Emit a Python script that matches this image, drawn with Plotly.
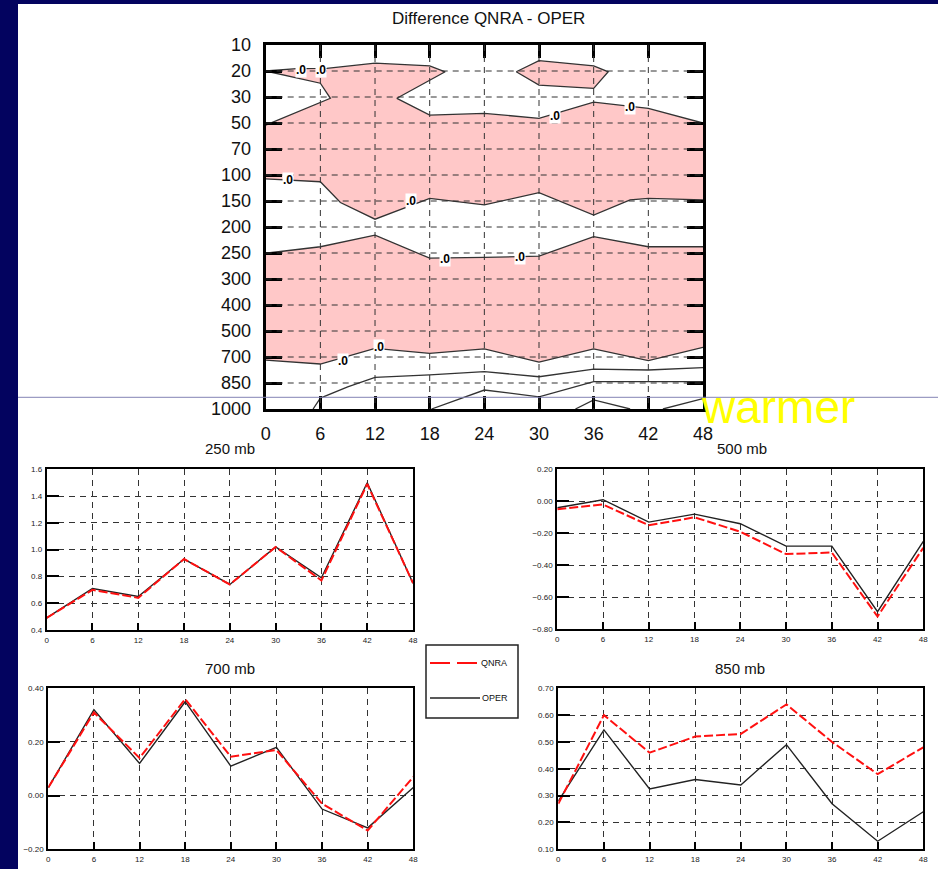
import plotly.graph_objects as go

W, H = 938, 869

# ---------------- data ----------------
hours = [0, 6, 12, 18, 24, 30, 36, 42, 48]
levels = ["10", "20", "30", "50", "70", "100", "150", "200", "250",
          "300", "400", "500", "700", "850", "1000"]

# contour lines of the difference field (x in hours, y in pressure-level index, 0 = 10 mb)
upper_top_x = [0, 3.4, 6.7, 12, 18, 19.7, 14.4, 18, 24, 30, 36, 42, 48]
upper_top_y = [1.0, 0.91, 0.9, 0.7, 0.8, 1.03, 2.05, 2.7, 2.63, 2.82, 2.2, 2.44, 3.0]
wedge_x = [0, 6, 7.1, 0]
wedge_y = [1.0, 1.47, 2.05, 3.08]
upper_bot_x = [0, 6, 8.2, 12, 18, 24, 30, 36, 40, 42, 48]
upper_bot_y = [5.15, 5.26, 6.06, 6.7, 5.9, 6.15, 5.68, 6.54, 5.96, 5.9, 5.96]
island_x = [27.5, 30, 36, 37.6, 36, 30, 27.5]
island_y = [1.03, 0.6, 0.8, 1.03, 1.67, 1.54, 1.03]
lower_top_y = [8.01, 7.76, 7.31, 8.2, 8.17, 8.12, 7.37, 7.76, 7.76]
lower_bot_y = [12.12, 12.27, 11.67, 11.86, 11.69, 12.2, 11.69, 12.14, 11.63]
lineC_x = [5.2, 6, 9, 12, 18, 24, 30, 36, 42, 48]
lineC_y = [14, 13.58, 13.15, 12.78, 12.69, 12.56, 12.76, 12.47, 12.5, 12.41]
lineD_x = [18.2, 24, 30, 36, 42, 48]
lineD_y = [14, 13.27, 13.53, 12.95, 12.95, 12.95]
lineE_x = [34, 36, 40]
lineE_y = [14, 13.65, 14]
lineF_x = [43.6, 48]
lineF_y = [14, 13.6]

label_x = [3.9, 6.1, 31.8, 40.0, 2.5, 16.0, 19.7, 27.9, 8.5, 12.4]
label_y = [0.97, 0.97, 2.72, 2.37, 5.19, 6.0, 8.23, 8.17, 12.14, 11.6]

# time series
q250 = [0.49, 0.70, 0.64, 0.93, 0.74, 1.02, 0.77, 1.49, 0.75]
o250 = [0.49, 0.71, 0.65, 0.93, 0.74, 1.02, 0.79, 1.50, 0.75]
q500 = [-0.05, -0.02, -0.15, -0.10, -0.19, -0.33, -0.32, -0.72, -0.29]
o500 = [-0.04, 0.01, -0.13, -0.08, -0.14, -0.28, -0.28, -0.69, -0.25]
q700 = [0.03, 0.31, 0.14, 0.36, 0.145, 0.17, -0.03, -0.13, 0.07]
o700 = [0.03, 0.32, 0.12, 0.35, 0.11, 0.18, -0.05, -0.12, 0.03]
q850 = [0.27, 0.60, 0.46, 0.52, 0.53, 0.64, 0.50, 0.38, 0.48]
o850 = [0.28, 0.545, 0.325, 0.36, 0.34, 0.49, 0.27, 0.13, 0.24]

panels = [
    ("250 mb", q250, o250, [0.4, 1.6], 0.2, ".1f"),
    ("500 mb", q500, o500, [-0.8, 0.2], 0.2, ".2f"),
    ("700 mb", q700, o700, [-0.2, 0.4], 0.2, ".2f"),
    ("850 mb", q850, o850, [0.1, 0.7], 0.1, ".2f"),
]

# ---------------- helpers ----------------
def px(x):
    return x / W

def py(y):
    return 1 - y / H

NAVY = "#03035f"
PINK = "#ffc8c8"
LINE = "#333333"

fig = go.Figure()

# ---- contour panel ----
poly_x = upper_top_x + upper_bot_x[::-1] + wedge_x[::-1]
poly_y = upper_top_y + upper_bot_y[::-1] + wedge_y[::-1]
fig.add_trace(go.Scatter(x=poly_x, y=poly_y, fill="toself", fillcolor=PINK,
                         mode="lines", line=dict(width=0), hoverinfo="skip",
                         xaxis="x", yaxis="y"))
fig.add_trace(go.Scatter(x=island_x, y=island_y, fill="toself", fillcolor=PINK,
                         mode="lines", line=dict(width=0), hoverinfo="skip",
                         xaxis="x", yaxis="y"))
fig.add_trace(go.Scatter(x=hours + hours[::-1], y=lower_top_y + lower_bot_y[::-1],
                         fill="toself", fillcolor=PINK, mode="lines",
                         line=dict(width=0), hoverinfo="skip", xaxis="x", yaxis="y"))

for lx, ly in [(upper_top_x, upper_top_y), (wedge_x, wedge_y), (upper_bot_x, upper_bot_y),
               (island_x, island_y), (hours, lower_top_y), (hours, lower_bot_y),
               (lineC_x, lineC_y), (lineD_x, lineD_y), (lineE_x, lineE_y), (lineF_x, lineF_y)]:
    fig.add_trace(go.Scatter(x=lx, y=ly, mode="lines", line=dict(color=LINE, width=1.3),
                             hoverinfo="skip", xaxis="x", yaxis="y"))

shapes = []
annotations = []

# white slide area
shapes.append(dict(type="rect", xref="paper", yref="paper", x0=px(18), x1=1.0,
                   y0=0, y1=py(4), fillcolor="white", line=dict(width=0), layer="below"))

# dashed grid of contour panel (above the fill)
for h in hours[1:-1]:
    shapes.append(dict(type="line", xref="x", yref="y", x0=h, x1=h, y0=0, y1=14,
                       line=dict(color="#333", width=1, dash="6px,5px"), layer="above"))
for i in range(1, len(levels) - 1):
    shapes.append(dict(type="line", xref="x", yref="y", x0=0, x1=48, y0=i, y1=i,
                       line=dict(color="#333", width=1, dash="6px,5px"), layer="above"))

for lx, ly in zip(label_x, label_y):
    annotations.append(dict(x=lx, y=ly, xref="x", yref="y", text="<b>.0</b>",
                            showarrow=False, bgcolor="white", borderpad=0,
                            font=dict(size=12, color="black", family="Liberation Sans")))

FONT = "Liberation Sans, Arial, sans-serif"

layout = dict(
    width=W, height=H, margin=dict(l=0, r=0, t=0, b=0, pad=0, autoexpand=False),
    paper_bgcolor=NAVY, plot_bgcolor="white", showlegend=False,
    font=dict(family=FONT, color="black"),
    xaxis=dict(domain=[px(265.7), px(703)], range=[0, 48], tickvals=hours,
               ticks="inside", ticklen=13, tickwidth=2.5, tickcolor="black",
               showline=True, linewidth=3, linecolor="black", mirror="ticks",
               showgrid=False, zeroline=False, tickfont=dict(size=18, color="#111"),
               ticklabelstandoff=6, anchor="y"),
    yaxis=dict(domain=[py(409), py(45)], range=[14, 0], tickvals=list(range(len(levels))),
               ticktext=levels, ticks="inside", ticklen=16, tickwidth=2.5, tickcolor="black",
               showline=True, linewidth=3, linecolor="black", mirror="ticks",
               showgrid=False, zeroline=False, tickfont=dict(size=18, color="#111"),
               ticklabelstandoff=8, anchor="x"),
)

annotations.append(dict(x=px(488), y=py(19), xref="paper", yref="paper",
                        text="Difference QNRA - OPER", showarrow=False,
                        font=dict(size=17, color="#111"), xanchor="center", yanchor="middle"))

domains = [
    ([46.7, 413], [630, 469.3]),
    ([557.3, 923.3], [629.3, 469.3]),
    ([48.3, 413.3], [849.3, 688.3]),
    ([558.3, 923.3], [849.3, 688.3]),
]
title_pos = [(230, 448), (742, 448), (230, 668), (740, 668)]

for k, ((name, q, o, yr, dt, fmt), (dx, dy), tp) in enumerate(zip(panels, domains, title_pos)):
    n = k + 2
    xa, ya = f"x{n}", f"y{n}"
    fig.add_trace(go.Scatter(x=hours, y=o, mode="lines", line=dict(color="#222", width=1.4),
                             name="OPER", xaxis=xa, yaxis=ya))
    fig.add_trace(go.Scatter(x=hours, y=q, mode="lines",
                             line=dict(color="#ff1010", width=2, dash="9px,3px"),
                             name="QNRA", xaxis=xa, yaxis=ya))
    layout[f"xaxis{n}"] = dict(domain=[px(dx[0]), px(dx[1])], range=[0, 48], tickvals=hours,
                               ticks="inside", ticklen=7, tickwidth=2, tickcolor="black",
                               showline=True, linewidth=2, linecolor="black", mirror=True,
                               showgrid=True, gridcolor="#333", griddash="6px,5px", gridwidth=1,
                               zeroline=False, tickfont=dict(size=8, color="#222"),
                               ticklabelstandoff=1, anchor=ya)
    layout[f"yaxis{n}"] = dict(domain=[py(dy[0]), py(dy[1])], range=yr, dtick=dt,
                               tick0=yr[0], tickformat=fmt,
                               ticks="inside", ticklen=12, tickwidth=2, tickcolor="black",
                               showline=True, linewidth=2, linecolor="black", mirror=True,
                               showgrid=True, gridcolor="#333", griddash="6px,5px", gridwidth=1,
                               zeroline=False, tickfont=dict(size=8, color="#222"),
                               ticklabelstandoff=1, anchor=xa)
    annotations.append(dict(x=px(tp[0]), y=py(tp[1]), xref="paper", yref="paper", text=name,
                            showarrow=False, font=dict(size=15, color="#111"),
                            xanchor="center", yanchor="middle"))

# legend box
shapes.append(dict(type="rect", xref="paper", yref="paper", x0=px(426), x1=px(518),
                   y0=py(718), y1=py(645), line=dict(color="#222", width=1.5),
                   fillcolor="white", layer="above"))
shapes.append(dict(type="line", xref="paper", yref="paper", x0=px(430), x1=px(479),
                   y0=py(663), y1=py(663), line=dict(color="#ff1010", width=2, dash="20px,7px"),
                   layer="above"))
shapes.append(dict(type="line", xref="paper", yref="paper", x0=px(430), x1=px(480),
                   y0=py(698), y1=py(698), line=dict(color="#222", width=1.3), layer="above"))
annotations.append(dict(x=px(479), y=py(663), xref="paper", yref="paper", text="QNRA",
                        showarrow=False, xanchor="left", yanchor="middle",
                        font=dict(size=9, color="#111")))
annotations.append(dict(x=px(480), y=py(698), xref="paper", yref="paper", text="OPER",
                        showarrow=False, xanchor="left", yanchor="middle",
                        font=dict(size=9, color="#111")))

# thin slide rule line
shapes.append(dict(type="line", xref="paper", yref="paper", x0=px(18), x1=1.0,
                   y0=py(397.3), y1=py(397.3), line=dict(color="#8484b4", width=1),
                   layer="above"))

annotations.append(dict(x=px(699), y=py(407), xref="paper", yref="paper", text="warmer",
                        showarrow=False, xanchor="left", yanchor="middle",
                        font=dict(size=46, color="#ffff00", family=FONT)))

layout["shapes"] = shapes
layout["annotations"] = annotations
fig.update_layout(**layout)

fig.write_html(
    "out.html",
    config={"displayModeBar": False},
    post_script="document.body.style.margin='0';document.documentElement.style.background='#03035f';",
)
